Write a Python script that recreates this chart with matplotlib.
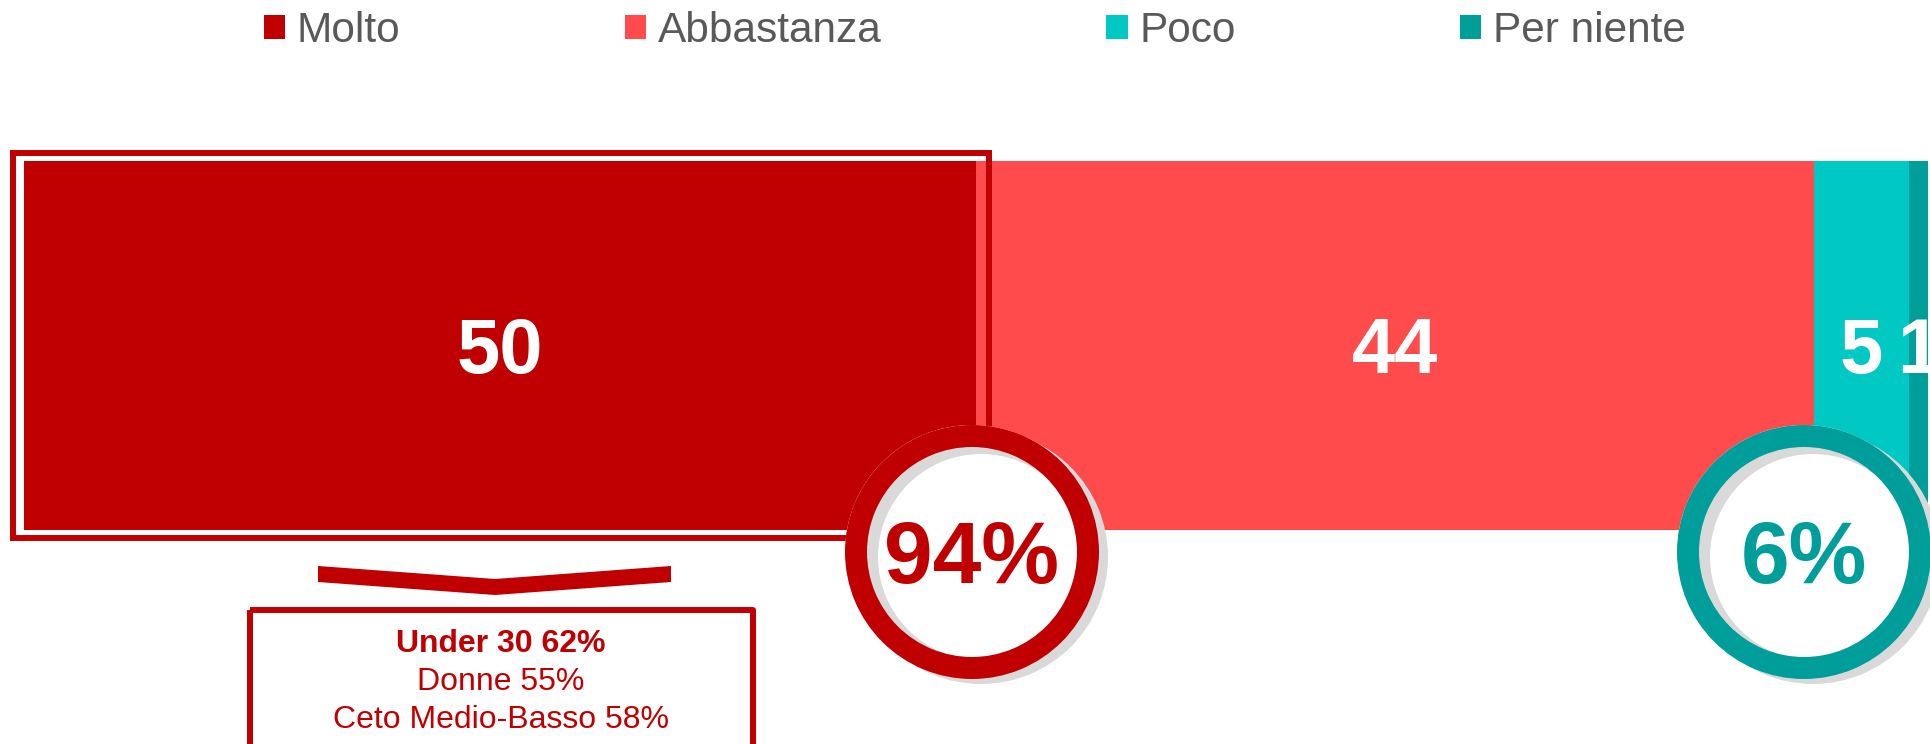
import matplotlib
matplotlib.use('Agg')
import matplotlib.pyplot as plt
from matplotlib.patches import Patch, Rectangle, Circle, Wedge, Polygon

plt.rcParams['font.family'] = ['Liberation Sans', 'DejaVu Sans']

categories = ['Molto', 'Abbastanza', 'Poco', 'Per niente']
values = [50, 44, 5, 1]
colors = ['#C00000', '#FF4B4B', '#00C8C3', '#009E99']
detail_lines = ['Under 30 62%', 'Donne 55%', 'Ceto Medio-Basso 58%']

W, H = 1931, 744
fig = plt.figure(figsize=(W / 100, H / 100), dpi=100)

# stacked bar (x axis 0..100 mapped on the figure)
ax = fig.add_axes([24 / W, (H - 530) / H, 1904 / W, 369 / H])
left = 0
for cat, v, c in zip(categories, values, colors):
    ax.barh(0, v, left=left, height=1, color=c, edgecolor='none')
    ax.text(left + v / 2, -0.02, str(v), ha='center', va='center', color='white',
            fontsize=56, fontweight='bold')
    left += v
ax.set_xlim(0, 100)
ax.set_ylim(-0.5, 0.5)
ax.axis('off')

# legend
handles = [Patch(facecolor=c, edgecolor='none') for c in colors]
fig.legend(handles, categories, loc='center', bbox_to_anchor=(975 / W, 1 - 31 / H),
           ncol=4, frameon=False, fontsize=30.5, handlelength=0.5, handleheight=0.5,
           handletextpad=0.28, columnspacing=5.3, labelcolor='#595959',
           borderpad=0, borderaxespad=0)

# overlay in pixel units for the callouts
ov = fig.add_axes([0, 0, 1, 1], zorder=5)
ov.set_xlim(0, W)
ov.set_ylim(H, 0)
ov.axis('off')
ov.patch.set_visible(False)

red = '#C00000'
teal = '#009E9A'

# frame round "Molto"
ov.add_patch(Rectangle((13, 153), 976, 385, fill=False, edgecolor=red, lw=4.3))

# chevron
ov.add_patch(Polygon([(318, 566), (495, 579), (671, 566), (671, 582), (495, 595), (318, 582)],
                     closed=True, facecolor=red, edgecolor='none'))

# detail box
ov.add_patch(Rectangle((250, 610), 503, 200, fill=False, edgecolor=red, lw=4.3,
                       joinstyle='round'))
ov.text(501, 644, detail_lines[0], ha='center', va='center', color=red,
        fontsize=23, fontweight='bold')
ov.text(501, 682, detail_lines[1], ha='center', va='center', color=red, fontsize=23)
ov.text(501, 720, detail_lines[2], ha='center', va='center', color=red, fontsize=23)


def badge(cx, cy, label, col):
    r = 127
    ov.add_patch(Circle((cx, cy), r, facecolor='white', edgecolor='none'))
    ov.add_patch(Wedge((cx + 9, cy + 5), r, 0, 360, width=24, facecolor='#D9D9D9',
                       edgecolor='none'))
    ov.add_patch(Wedge((cx, cy), r, 0, 360, width=22, facecolor=col, edgecolor='none'))
    ov.text(cx, cy + 9, label, ha='center', va='center', color=col,
            fontsize=63, fontweight='bold')


positive = values[0] + values[1]
negative = values[2] + values[3]
badge(972, 552, '%d%%' % positive, red)
badge(1804, 552, '%d%%' % negative, teal)

fig.savefig('out.png', dpi=100)
